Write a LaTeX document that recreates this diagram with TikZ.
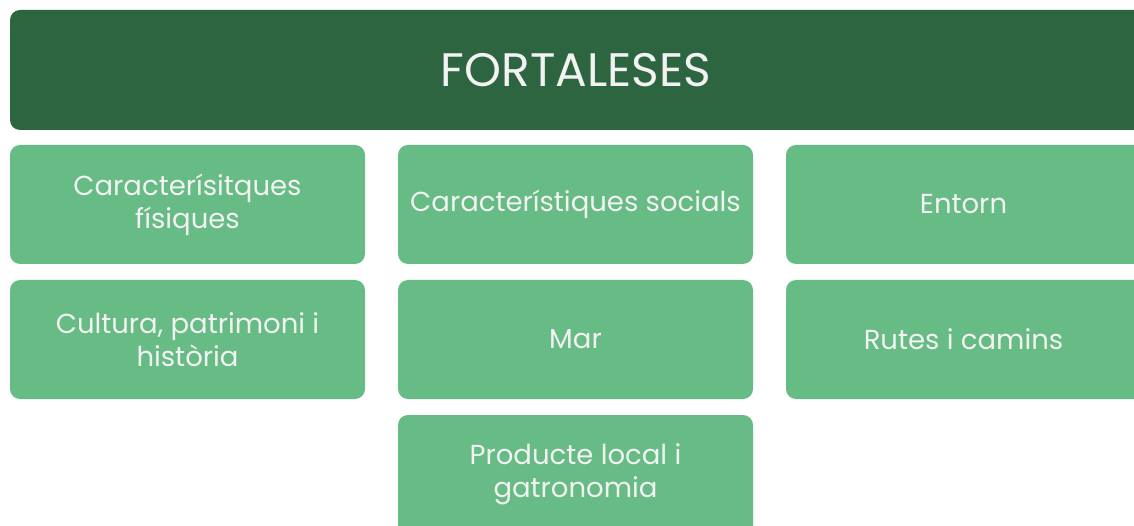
\documentclass[tikz,border=0pt]{standalone}
\usepackage{fontspec}
\setmainfont{Poppins}
\definecolor{darkg}{HTML}{2C6540}
\definecolor{lightg}{HTML}{67BB84}
\definecolor{txt}{HTML}{F2F2F2}
\tikzset{
  hdr/.style={fill=darkg, rounded corners=10pt, draw=none},
  cell/.style={fill=lightg, rounded corners=10pt, draw=none},
  lbl/.style={text=txt, align=center, font=\fontsize{27.5}{33}\selectfont},
}
\begin{document}
\begin{tikzpicture}[x=1pt,y=-1pt]
\useasboundingbox (0,0) rectangle (1134,526);
\clip (0,0) rectangle (1134,526);
\fill[hdr] (10,10) rectangle (1160,130);
\node[text=txt, font=\fontsize{47}{52}\selectfont] (h) at (576,70) {FORTALESES};
% column 1
\fill[cell] (10,145) rectangle (365,264);
\node[lbl] (a1) at (187.5,204.5) {Caracterísitques\\físiques};
\fill[cell] (10,280) rectangle (365,399);
\node[lbl] (a2) at (187.5,339.5) {Cultura, patrimoni i\\història};
% column 2
\fill[cell] (398,145) rectangle (753,264);
\node[lbl] (b1) at (575.5,204.5) {Característiques socials};
\fill[cell] (398,280) rectangle (753,399);
\node[lbl] (b2) at (575.5,339.5) {Mar};
\fill[cell] (398,415) rectangle (753,540);
\node[lbl] (b3) at (575.5,474.5) {Producte local i\\gatronomia};
% column 3
\fill[cell] (786,145) rectangle (1160,264);
\node[lbl] (c1) at (963.5,204.5) {Entorn};
\fill[cell] (786,280) rectangle (1160,399);
\node[lbl] (c2) at (963.5,339.5) {Rutes i camins};
\end{tikzpicture}
\end{document}
